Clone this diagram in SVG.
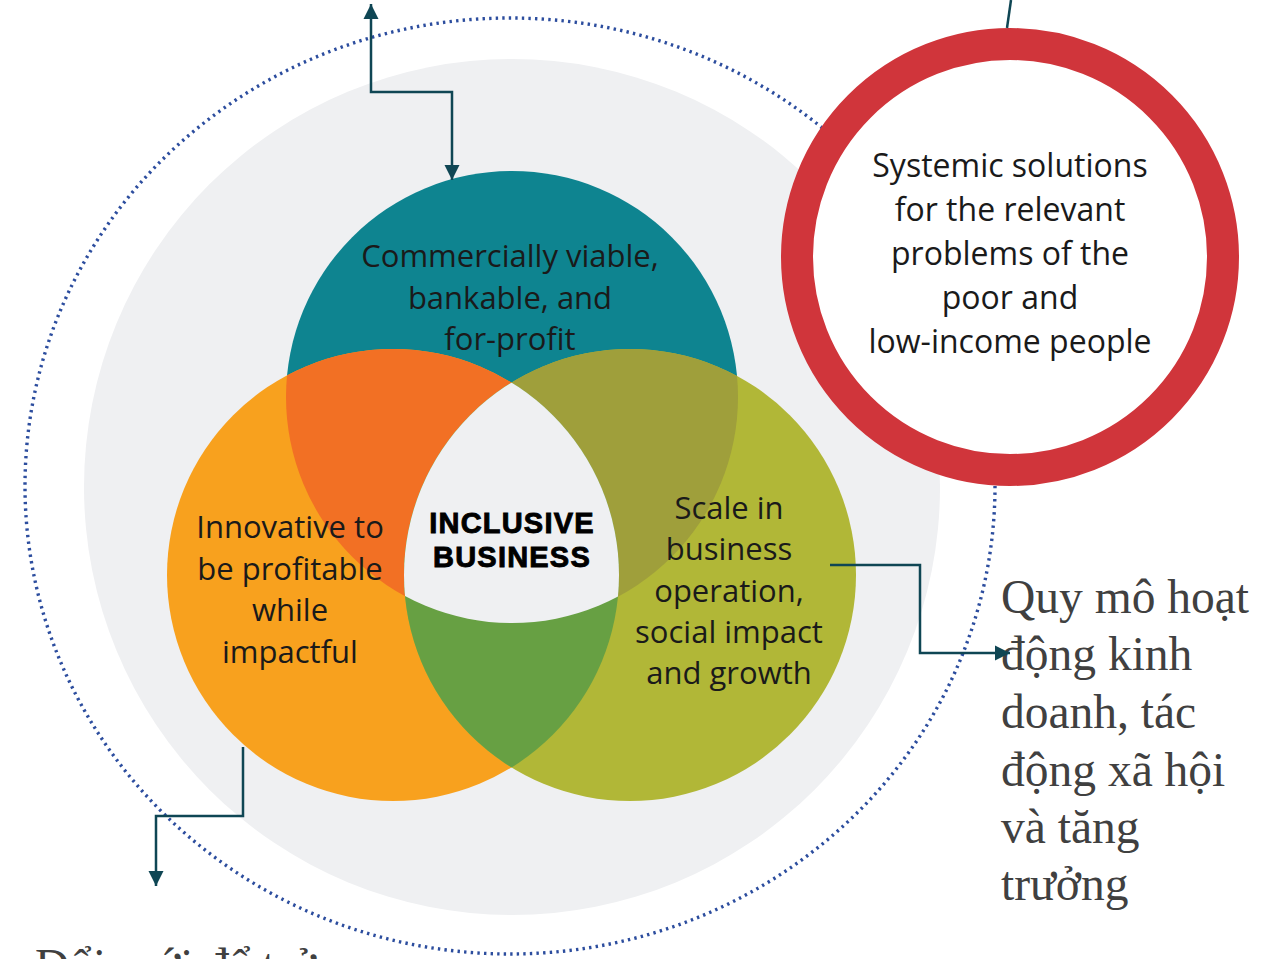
<svg xmlns="http://www.w3.org/2000/svg" width="1268" height="959" viewBox="0 0 1268 959">
<style>
.lbl{font-family:"Open Sans","Noto Sans","DejaVu Sans",sans-serif;font-size:31px;fill:#1a1a1a;text-anchor:middle}
.red{font-size:32px}
.core{font-family:"Liberation Sans",Arial,sans-serif;font-weight:bold;font-size:29px;letter-spacing:1.2px;fill:#000;stroke:#000;stroke-width:0.9;text-anchor:middle}
.vn{font-family:"Liberation Serif","Times New Roman",serif;font-size:47.5px;fill:#404040}
.conn{fill:none;stroke:#0f4654;stroke-width:2.5}
</style>
<defs>
<marker id="ah" viewBox="0 0 10 10" refX="10" refY="5" markerWidth="15" markerHeight="16" markerUnits="userSpaceOnUse" orient="auto-start-reverse">
<path d="M0,0 L10,5 L0,10 z" fill="#0f4654"/>
</marker>
<clipPath id="cT"><circle cx="512" cy="397" r="226"/></clipPath>
<clipPath id="cO"><circle cx="393" cy="575" r="226"/></clipPath>
<clipPath id="cG"><circle cx="630" cy="575" r="226"/></clipPath>
</defs>
<rect width="1268" height="959" fill="#ffffff"/>
<g id="outer-ring">
<ellipse cx="510" cy="486" rx="485" ry="468" fill="none" stroke="#2c4d9e" stroke-width="3.4" stroke-dasharray="2.4 4.2"/>
</g>
<g id="background">
<circle cx="512" cy="487" r="428" fill="#eff0f2"/>
</g>
<g id="venn">
<g id="commercial"><circle cx="512" cy="397" r="226" fill="#0e8490"/></g>
<g id="innovative"><circle cx="393" cy="575" r="226" fill="#f8a11e"/></g>
<g id="scale"><circle cx="630" cy="575" r="226" fill="#b1b737"/></g>
<circle cx="512" cy="397" r="226" fill="#f27024" clip-path="url(#cO)"/>
<circle cx="512" cy="397" r="226" fill="#9f9f3b" clip-path="url(#cG)"/>
<circle cx="393" cy="575" r="226" fill="#67a043" clip-path="url(#cG)"/>
<g clip-path="url(#cG)"><circle cx="512" cy="397" r="226" fill="#eff0f2" clip-path="url(#cO)"/></g>
</g>
<g id="systemic">
<circle cx="1010" cy="257" r="213" fill="#ffffff" stroke="#d0353b" stroke-width="32"/>
<text class="lbl red" x="1010" y="177">Systemic solutions</text>
<text class="lbl red" x="1010" y="221">for the relevant</text>
<text class="lbl red" x="1010" y="265">problems of the</text>
<text class="lbl red" x="1010" y="309">poor and</text>
<text class="lbl red" x="1010" y="353">low-income people</text>
</g>
<g id="commercial-label">
<text class="lbl" x="510" y="267">Commercially viable,</text>
<text class="lbl" x="510" y="309">bankable, and</text>
<text class="lbl" x="510" y="350">for-profit</text>
</g>
<g id="innovative-label">
<text class="lbl" x="290" y="538">Innovative to</text>
<text class="lbl" x="290" y="580">be profitable</text>
<text class="lbl" x="290" y="621">while</text>
<text class="lbl" x="290" y="663">impactful</text>
</g>
<g id="scale-label">
<text class="lbl" x="729" y="519">Scale in</text>
<text class="lbl" x="729" y="560">business</text>
<text class="lbl" x="729" y="602">operation,</text>
<text class="lbl" x="729" y="643">social impact</text>
<text class="lbl" x="729" y="684">and growth</text>
</g>
<g id="core">
<text class="core" x="512" y="533">INCLUSIVE</text>
<text class="core" x="512" y="567">BUSINESS</text>
</g>
<g id="vn-scale">
<text class="vn" x="1001" y="613">Quy mô hoạt</text>
<text class="vn" x="1001" y="670">động kinh</text>
<text class="vn" x="1001" y="728">doanh, tác</text>
<text class="vn" x="1001" y="786">động xã hội</text>
<text class="vn" x="1001" y="843">và tăng</text>
<text class="vn" x="1001" y="900">trưởng</text>
</g>
<g id="vn-innovative">
<text class="vn" x="35" y="982">Đổi mới để trở</text>
</g>
<g id="connectors">
<path class="conn" d="M452,180 V92 H371 V4" marker-start="url(#ah)" marker-end="url(#ah)"/>
<path class="conn" d="M243,747 V816 H156 V886" marker-end="url(#ah)"/>
<path class="conn" d="M830,565 H920 V653 H1010" marker-end="url(#ah)"/>
<path class="conn" d="M1007,28 L1011,0"/>
</g>
</svg>
